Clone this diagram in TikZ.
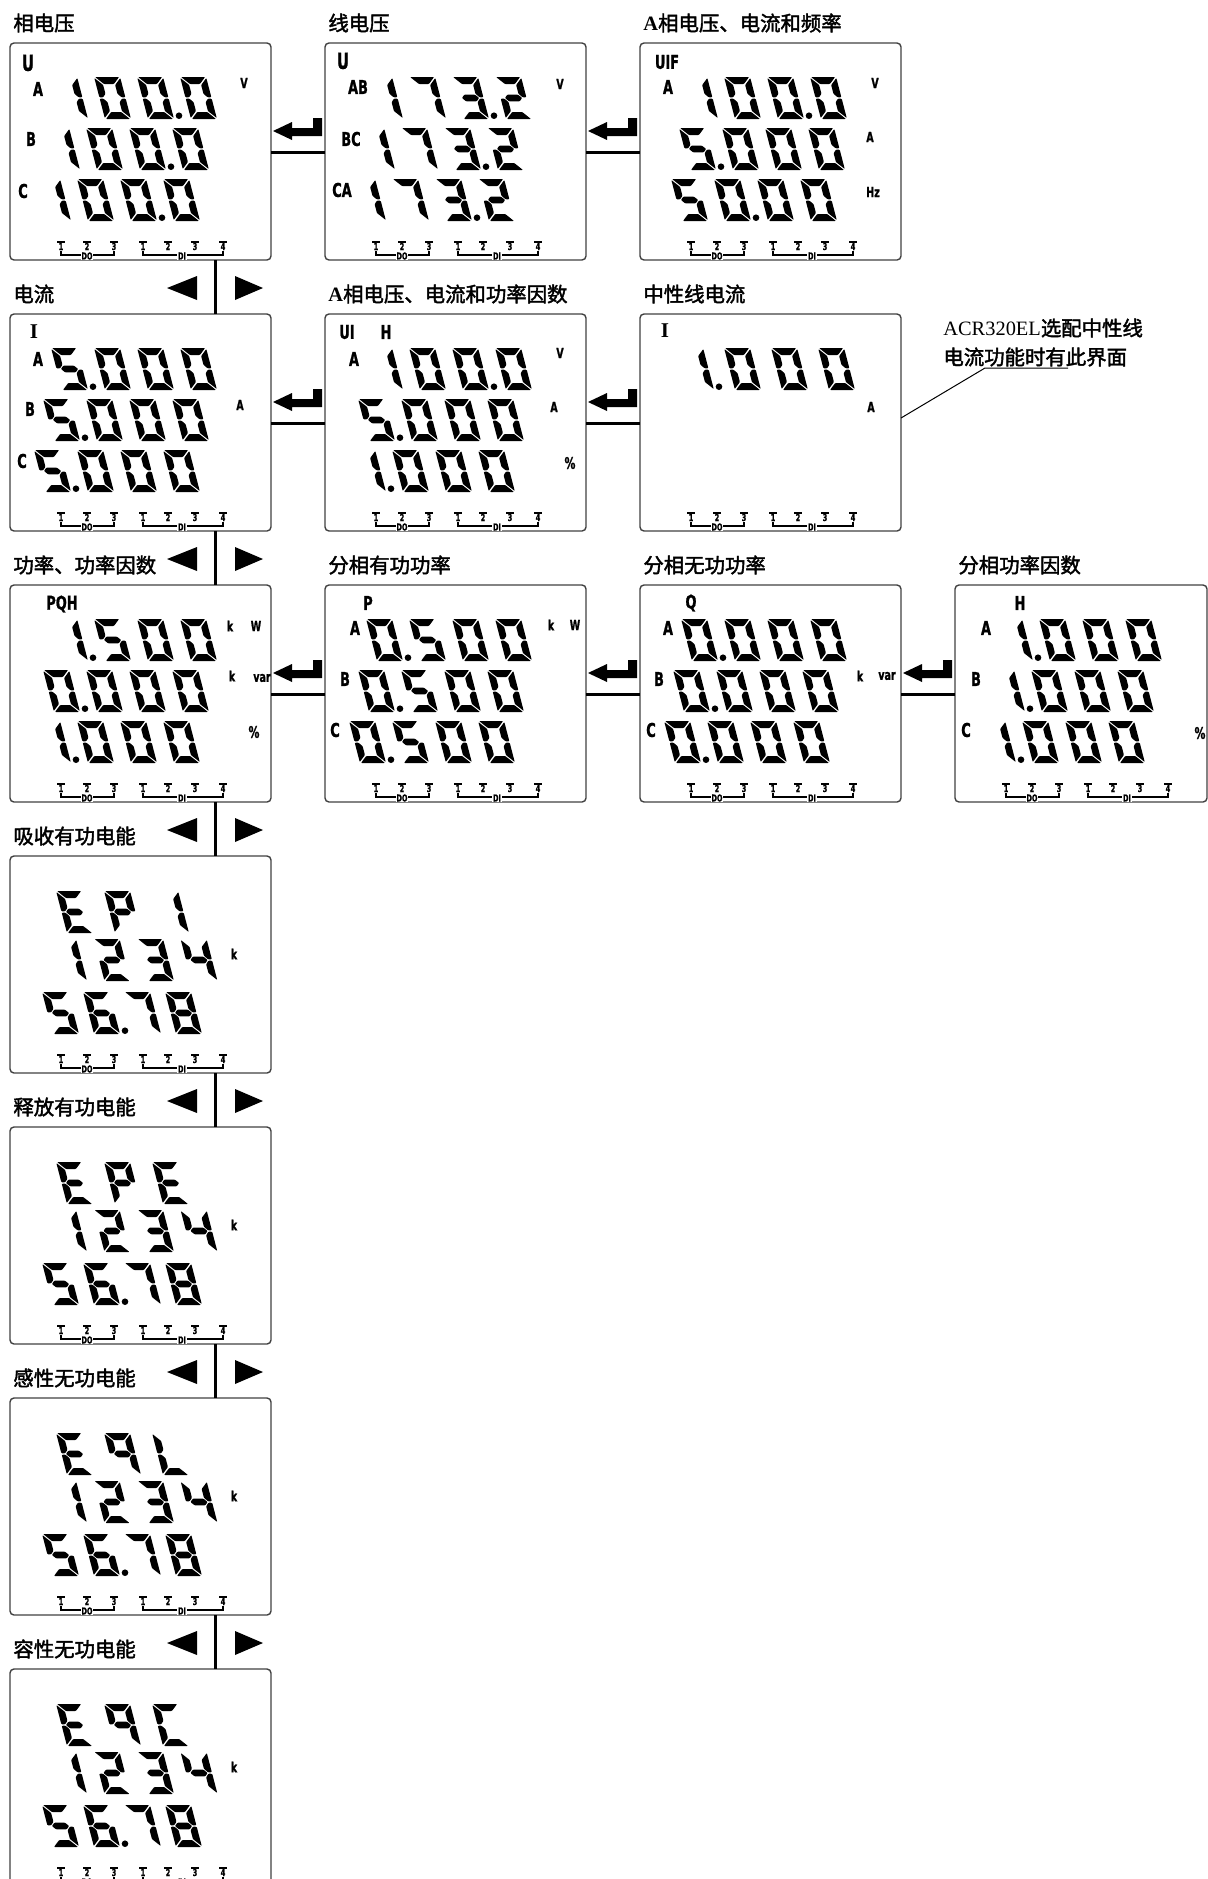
\documentclass[tikz,border=0pt]{standalone}
\usepackage{fontspec}
\setmainfont{Liberation Serif}
\newfontfamily\cjk{Noto Sans CJK SC}[FakeBold=2]
\newfontfamily\lab{DejaVu Sans}[FakeStretch=0.68,BoldFeatures={FakeBold=1}]
\usetikzlibrary{calc}

% seven-segment pieces (local units, y up)
\tikzset{segfill/.style={rounded corners=0.4pt}}
\expandafter\def\csname lcdSa\endcsname{\fill[segfill] (1,42)--(25,42)--(18,35)--(8,35)--cycle;}
\expandafter\def\csname lcdSb\endcsname{\fill[segfill] (26,41)--(26,21.8)--(22.4,21.6)--(19,25.2)--(19,34)--cycle;}
\expandafter\def\csname lcdSc\endcsname{\fill[segfill] (26,1)--(26,20.2)--(22.4,20.4)--(19,16.8)--(19,8)--cycle;}
\expandafter\def\csname lcdSd\endcsname{\fill[segfill] (1,0)--(25,0)--(18,7)--(8,7)--cycle;}
\expandafter\def\csname lcdSe\endcsname{\fill[segfill] (0,1)--(0,20.2)--(3.6,20.4)--(7,16.8)--(7,8)--cycle;}
\expandafter\def\csname lcdSf\endcsname{\fill[segfill] (0,41)--(0,21.8)--(3.6,21.6)--(7,25.2)--(7,34)--cycle;}
\expandafter\def\csname lcdSg\endcsname{\fill[segfill] (4.4,21)--(7.8,24.4)--(18.2,24.4)--(21.6,21)--(18.2,17.6)--(7.8,17.6)--cycle;}
% characters
\expandafter\def\csname lcdC0\endcsname{a,b,c,d,e,f}
\expandafter\def\csname lcdC1\endcsname{b,c}
\expandafter\def\csname lcdC2\endcsname{a,b,g,e,d}
\expandafter\def\csname lcdC3\endcsname{a,b,g,c,d}
\expandafter\def\csname lcdC4\endcsname{f,g,b,c}
\expandafter\def\csname lcdC5\endcsname{a,f,g,c,d}
\expandafter\def\csname lcdC6\endcsname{a,f,g,e,d,c}
\expandafter\def\csname lcdC7\endcsname{a,b,c}
\expandafter\def\csname lcdC8\endcsname{a,b,c,d,e,f,g}
\expandafter\def\csname lcdC9\endcsname{a,b,c,f,g}
\expandafter\def\csname lcdCE\endcsname{a,d,e,f,g}
\expandafter\def\csname lcdCP\endcsname{a,b,e,f,g}
\expandafter\def\csname lcdCL\endcsname{d,e,f}
\expandafter\def\csname lcdCC\endcsname{a,d,e,f}

\newcommand\lcdchar[3]{%
  \begin{scope}[shift={(#1,#2)},yscale=-1,xslant=0.26]
    \edef\lcdlist{\csname lcdC#3\endcsname}%
    \foreach \s in \lcdlist {\csname lcdS\s\endcsname}%
  \end{scope}}
\newcommand\lcdrow[5]{% x of first cell, bottom y, pitch, chars, dot after cell
  \foreach \ch [count=\i from 0] in {#4} {\lcdchar{#1+\i*#3}{#2}{\ch}}
  \ifnum#5>0\relax \fill (#1+#5*#3-#3+31,#2-3.3) circle (3.3);\fi}
\newcommand\lcdthree[6]{%
  \lcdrow{52}{76}{43}{#1}{#2}
  \lcdrow{44}{127}{43}{#3}{#4}
  \lcdrow{35}{178}{43}{#5}{#6}}
\newcommand\indbar[1]{%
  \foreach \xx/\nn [count=\k] in {51/1,77/2,104/3,133/1,158/2,185/3,213/4}{
    \draw[line width=0.55pt] (\xx-4,199)--(\xx+4,199);
    \node[tinyt] (#1d\k) at (\xx,203.5) {\nn};}
  \draw[line width=0.55pt] (51,208)--(51,212)--(104,212)--(104,208);
  \draw[line width=0.55pt] (133,208)--(133,212)--(213,212)--(213,208);
  \node[tinyt,fill=white] (#1do) at (77,213) {DO};
  \node[tinyt,fill=white] (#1di) at (172,213) {DI};}
\newcommand\energy[2]{%
  \begin{scope}[shift={(#1.north west)}]
    \node[unit] (#1k) at (224,98) {k};
    \lcdrow{57}{77}{48}{#2}{0}
    \lcdrow{51}{125}{43.5}{1,2,3,4}{0}
    \lcdrow{43}{178}{41}{5,6,7,8}{2}
    \indbar{#1i}
  \end{scope}}

\tikzset{
  panel/.style={draw=black!75, line width=0.7pt, rounded corners=2pt,
    minimum width=130.5pt, minimum height=108.5pt, anchor=north west,
    inner sep=0pt, outer sep=0pt},
  ttl/.style={anchor=west, inner sep=0pt, font=\cjk\fontsize{10.2}{12}\selectfont},
  lbl/.style={inner sep=0pt, font=\lab\bfseries\fontsize{9.5}{9.5}\selectfont},
  lblbig/.style={inner sep=0pt, font=\lab\bfseries\fontsize{11}{11}\selectfont},
  lblser/.style={inner sep=0pt, font=\rmfamily\bfseries\fontsize{10.5}{10.5}\selectfont},
  unit/.style={inner sep=0pt, font=\lab\bfseries\fontsize{7}{7}\selectfont},
  pct/.style={inner sep=0pt, font=\lab\bfseries\fontsize{8}{8}\selectfont},
  tinyt/.style={inner sep=0.3pt, font=\lab\bfseries\fontsize{4.8}{4.8}\selectfont},
  hline/.style={line width=1.5pt},
  vline/.style={line width=1.5pt},
  enterarrow/.pic={\fill (-52,88)--(-33,79)--(-33,85)--(-12,85)--(-12,75)--(-3,75)--(-3,93)--(-33,93)--(-33,97)--cycle;},
  navtri/.pic={\fill (157,28)--(187,16)--(187,40)--cycle;
               \fill (225,16)--(225,40)--(253,28)--cycle;},
}

\begin{document}
\begin{tikzpicture}[x=0.5pt,y=-0.5pt]
\useasboundingbox (0,0) rectangle (1208,1879);
\clip (0,0) rectangle (1208,1879);

% ---------- panels ----------
\node[panel] (p11) at (10,43) {};
\node[panel] (p12) at (325,43) {};
\node[panel] (p13) at (640,43) {};
\node[panel] (p21) at (10,314) {};
\node[panel] (p22) at (325,314) {};
\node[panel] (p23) at (640,314) {};
\node[panel] (p31) at (10,585) {};
\node[panel] (p32) at (325,585) {};
\node[panel] (p33) at (640,585) {};
\node[panel,minimum width=126pt] (p34) at (955,585) {};
\node[panel] (p41) at (10,856) {};
\node[panel] (p51) at (10,1127) {};
\node[panel] (p61) at (10,1398) {};
\node[panel] (p71) at (10,1669) {};

% ---------- titles ----------
\node[ttl] (t11) at (13,23) {相电压};
\node[ttl] (t12) at (328,23) {线电压};
\node[ttl] (t13) at (643,23) {{\rmfamily\bfseries A}相电压、电流和频率};
\node[ttl] (t21) at (13,294) {电流};
\node[ttl] (t22) at (328,294) {{\rmfamily\bfseries A}相电压、电流和功率因数};
\node[ttl] (t23) at (643,294) {中性线电流};
\node[ttl] (t31) at (13,565) {功率、功率因数};
\node[ttl] (t32) at (328,565) {分相有功功率};
\node[ttl] (t33) at (643,565) {分相无功功率};
\node[ttl] (t34) at (958,565) {分相功率因数};
\node[ttl] (t41) at (13,836) {吸收有功电能};
\node[ttl] (t51) at (13,1107) {释放有功电能};
\node[ttl] (t61) at (13,1378) {感性无功电能};
\node[ttl] (t71) at (13,1649) {容性无功电能};

% ---------- horizontal connectors ----------
\foreach \a/\b in {p12/p11,p13/p12,p22/p21,p23/p22,p32/p31,p33/p32,p34/p33}{
  \pic at (\a.north west) {enterarrow};
  \draw[hline] ($(\b.north east)+(0,109)$) -- ($(\a.north west)+(0,109)$);
}
% ---------- vertical connectors ----------
\foreach \a/\b in {p11/p21,p21/p31,p31/p41,p41/p51,p51/p61,p61/p71}{
  \draw[vline] ($(\a.south west)+(205,0)$) -- ($(\b.north west)+(205,0)$);
  \pic at (\a.south west) {navtri};
}

% ---------- callout ----------
\node[ttl] (co1) at (943,328) {{\rmfamily ACR320EL}选配中性线};
\node[ttl] (co2) at (943,357) {电流功能时有此界面};
\coordinate (cu) at (985,368);
\coordinate (ce) at (1068,368);
\draw[line width=0.5pt] ($(p23.north east)+(0,104)$) -- (cu) -- (ce);

% ---------- panel contents ----------
\begin{scope}[shift={(p11.north west)}]
  \node[lblbig] (l11u) at (18,20) {U};
  \node[lbl] (l11a) at (28,46) {A};
  \node[lbl] (l11b) at (21,96) {B};
  \node[lbl] (l11c) at (13,148) {C};
  \node[unit] (l11v) at (234,40) {V};
  \lcdthree{1,0,0,0}{3}{1,0,0,0}{3}{1,0,0,0}{3}
  \indbar{i11}
\end{scope}

\begin{scope}[shift={(p12.north west)}]
  \node[lblbig] (l12u) at (18,18) {U};
  \node[lbl] (l12a) at (33,44) {AB};
  \node[lbl] (l12b) at (26,96) {BC};
  \node[lbl] (l12c) at (17,147) {CA};
  \node[unit] (l12v) at (235,41) {V};
  \lcdthree{1,7,3,2}{3}{1,7,3,2}{3}{1,7,3,2}{3}
  \indbar{i12}
\end{scope}

\begin{scope}[shift={(p13.north west)}]
  \node[lbl] (l13u) at (27,19) {UIF};
  \node[lbl] (l13a) at (28,44) {A};
  \node[unit] (l13v) at (235,40) {V};
  \node[unit] (l13i) at (230,94) {A};
  \node[unit] (l13f) at (233,149) {Hz};
  \lcdrow{52}{76}{43}{1,0,0,0}{3}
  \lcdrow{50}{127}{43}{5,0,0,0}{1}
  \lcdrow{42}{178}{43}{5,0,0,0}{2}
  \indbar{i13}
\end{scope}

\begin{scope}[shift={(p21.north west)}]
  \node[lblser] (l21i) at (24,18) {I};
  \node[lbl] (l21a) at (28,45) {A};
  \node[lbl] (l21b) at (20,95) {B};
  \node[lbl] (l21c) at (12,147) {C};
  \node[unit] (l21v) at (230,91) {A};
  \lcdthree{5,0,0,0}{1}{5,0,0,0}{1}{5,0,0,0}{1}
  \indbar{i21}
\end{scope}

\begin{scope}[shift={(p22.north west)}]
  \node[lbl] (l22u) at (22,18) {UI};
  \node[lbl] (l22h) at (61,18) {H};
  \node[lbl] (l22a) at (29,45) {A};
  \node[unit] (l22v) at (235,39) {V};
  \node[unit] (l22i) at (229,93) {A};
  \node[pct] (l22p) at (245,149) {\%};
  \lcdthree{1,0,0,0}{3}{5,0,0,0}{1}{1,0,0,0}{1}
  \indbar{i22}
\end{scope}

\begin{scope}[shift={(p23.north west)}]
  \node[lblser] (l23i) at (25,17) {I};
  \node[unit] (l23a) at (231,93) {A};
  \lcdrow{48}{76}{47}{1,0,0,0}{1}
  \indbar{i23}
\end{scope}

\begin{scope}[shift={(p31.north west)}]
  \node[lbl] (l31u) at (52,19) {PQH};
  \node[unit] (l31k1) at (220,41) {k};
  \node[unit] (l31w) at (246,41) {W};
  \node[unit] (l31k2) at (222,91) {k};
  \node[unit] (l31var) at (252,93) {var};
  \node[pct] (l31p) at (244,147) {\%};
  \lcdthree{1,5,0,0}{1}{0,0,0,0}{1}{1,0,0,0}{1}
  \indbar{i31}
\end{scope}

\begin{scope}[shift={(p32.north west)}]
  \node[lbl] (l32u) at (43,18) {P};
  \node[lbl] (l32a) at (30,43) {A};
  \node[lbl] (l32b) at (20,94) {B};
  \node[lbl] (l32c) at (10,145) {C};
  \node[unit] (l32k) at (226,40) {k};
  \node[unit] (l32w) at (250,40) {W};
  \lcdthree{0,5,0,0}{1}{0,5,0,0}{1}{0,5,0,0}{1}
  \indbar{i32}
\end{scope}

\begin{scope}[shift={(p33.north west)}]
  \node[lbl] (l33u) at (51,18) {Q};
  \node[lbl] (l33a) at (28,43) {A};
  \node[lbl] (l33b) at (19,94) {B};
  \node[lbl] (l33c) at (11,145) {C};
  \node[unit] (l33k) at (220,91) {k};
  \node[unit] (l33var) at (247,91) {var};
  \lcdthree{0,0,0,0}{1}{0,0,0,0}{1}{0,0,0,0}{1}
  \indbar{i33}
\end{scope}

\begin{scope}[shift={(p34.north west)}]
  \node[lbl] (l34u) at (65,18) {H};
  \node[lbl] (l34a) at (31,43) {A};
  \node[lbl] (l34b) at (21,94) {B};
  \node[lbl] (l34c) at (11,145) {C};
  \node[pct] (l34p) at (245,148) {\%};
  \lcdthree{1,0,0,0}{1}{1,0,0,0}{1}{1,0,0,0}{1}
  \indbar{i34}
\end{scope}

\energy{p41}{E,P,1}
\energy{p51}{E,P,E}
\energy{p61}{E,9,L}
\energy{p71}{E,9,C}
\end{tikzpicture}
\end{document}
